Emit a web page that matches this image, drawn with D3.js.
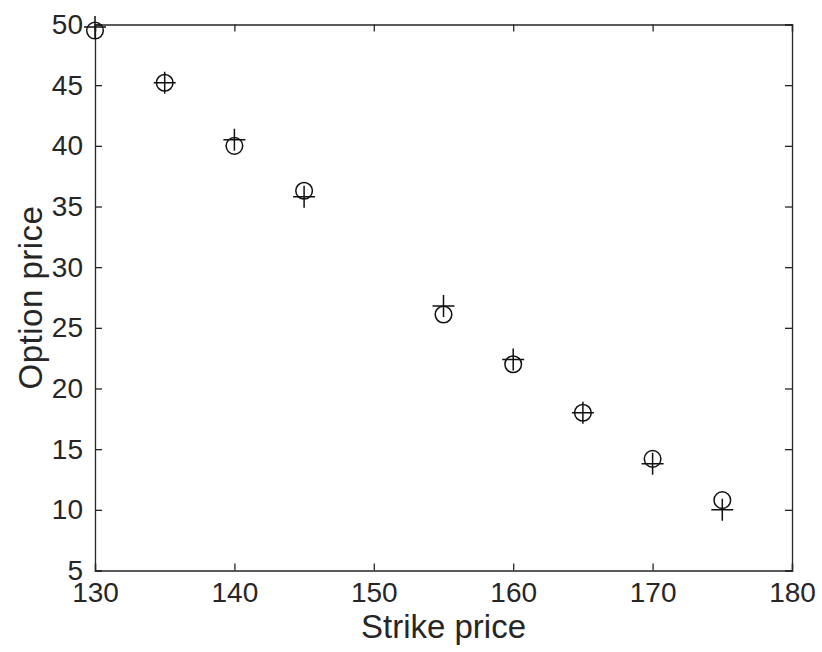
<!DOCTYPE html>
<html>
<head>
<meta charset="utf-8">
<script src="https://cdn.jsdelivr.net/npm/d3@7"></script>
<style>
  html, body { margin: 0; padding: 0; background: #fff; }
  svg { display: block; }
  text { font-family: "Liberation Sans", Arial, Helvetica, sans-serif; fill: #262626; }
</style>
</head>
<body>
<svg id="chart" width="822" height="652"></svg>
<script>
// Strike prices and the two sets of option prices (circles: market, plus: model)
const strikes = [130, 135, 140, 145, 155, 160, 165, 170, 175];
const circlePrices = [49.5, 45.2, 40.0, 36.3, 26.1, 22.0, 18.0, 14.2, 10.8];
const plusPrices = [49.8, 45.2, 40.5, 35.8, 26.8, 22.4, 18.0, 13.8, 10.0];

const xTicks = [130, 140, 150, 160, 170, 180];
const yTicks = [5, 10, 15, 20, 25, 30, 35, 40, 45, 50];
const xLabel = "Strike price";
const yLabel = "Option price";

const svg = d3.select("#chart");
const margin = { left: 95, right: 30, top: 24.5, bottom: 81.5 };
const W = 822, H = 652;
const axisColor = "#262626";

const x = d3.scaleLinear().domain([130, 180]).range([margin.left, W - margin.right]);
const y = d3.scaleLinear().domain([5, 50]).range([H - margin.bottom, margin.top]);

const tickLen = 7;
const tickFont = 28;
const titleFont = 33;

// Bottom axis with labels, ticks pointing inward
const gx = svg.append("g")
  .attr("transform", `translate(0,${y.range()[0]})`)
  .call(d3.axisBottom(x).tickValues(xTicks).tickSize(-tickLen).tickPadding(12).tickFormat(d3.format("d")));
// Left axis with labels
const gy = svg.append("g")
  .attr("transform", `translate(${x.range()[0]},0)`)
  .call(d3.axisLeft(y).tickValues(yTicks).tickSize(-tickLen).tickPadding(12).tickFormat(d3.format("d")));
// Top and right axes: ticks only
const gt = svg.append("g")
  .attr("transform", `translate(0,${y.range()[1]})`)
  .call(d3.axisTop(x).tickValues(xTicks).tickSize(-tickLen).tickFormat(""));
const gr = svg.append("g")
  .attr("transform", `translate(${x.range()[1]},0)`)
  .call(d3.axisRight(y).tickValues(yTicks).tickSize(-tickLen).tickFormat(""));

[gx, gy, gt, gr].forEach(g => {
  g.selectAll(".domain").attr("stroke", axisColor).attr("stroke-width", 1.3);
  g.selectAll(".tick line").attr("stroke", axisColor).attr("stroke-width", 1.3);
  g.selectAll(".tick text")
    .attr("font-size", tickFont)
    .attr("font-family", "Liberation Sans, Arial, sans-serif")
    .attr("fill", axisColor);
});
gx.selectAll(".tick text").attr("dy", "0.71em");

// Axis titles
svg.append("text")
  .attr("x", (x.range()[0] + x.range()[1]) / 2)
  .attr("y", 638)
  .attr("text-anchor", "middle")
  .attr("font-size", titleFont)
  .text(xLabel);

svg.append("text")
  .attr("transform", `translate(42,${(y.range()[0] + y.range()[1]) / 2}) rotate(-90)`)
  .attr("text-anchor", "middle")
  .attr("font-size", titleFont)
  .attr("letter-spacing", 0.5)
  .text(yLabel);

// Circle markers
svg.append("g").selectAll("circle")
  .data(strikes.map((s, i) => ({ s, v: circlePrices[i] })))
  .join("circle")
  .attr("cx", d => x(d.s))
  .attr("cy", d => y(d.v))
  .attr("r", 8.3)
  .attr("fill", "none")
  .attr("stroke", "#111")
  .attr("stroke-width", 1.5);

// Plus markers
const plusSize = 11;
svg.append("g").selectAll("path")
  .data(strikes.map((s, i) => ({ s, v: plusPrices[i] })))
  .join("path")
  .attr("d", d => {
    const cx = x(d.s), cy = y(d.v);
    return `M${cx - plusSize},${cy}H${cx + plusSize}M${cx},${cy - plusSize}V${cy + plusSize}`;
  })
  .attr("fill", "none")
  .attr("stroke", "#111")
  .attr("stroke-width", 1.5);
</script>
</body>
</html>
